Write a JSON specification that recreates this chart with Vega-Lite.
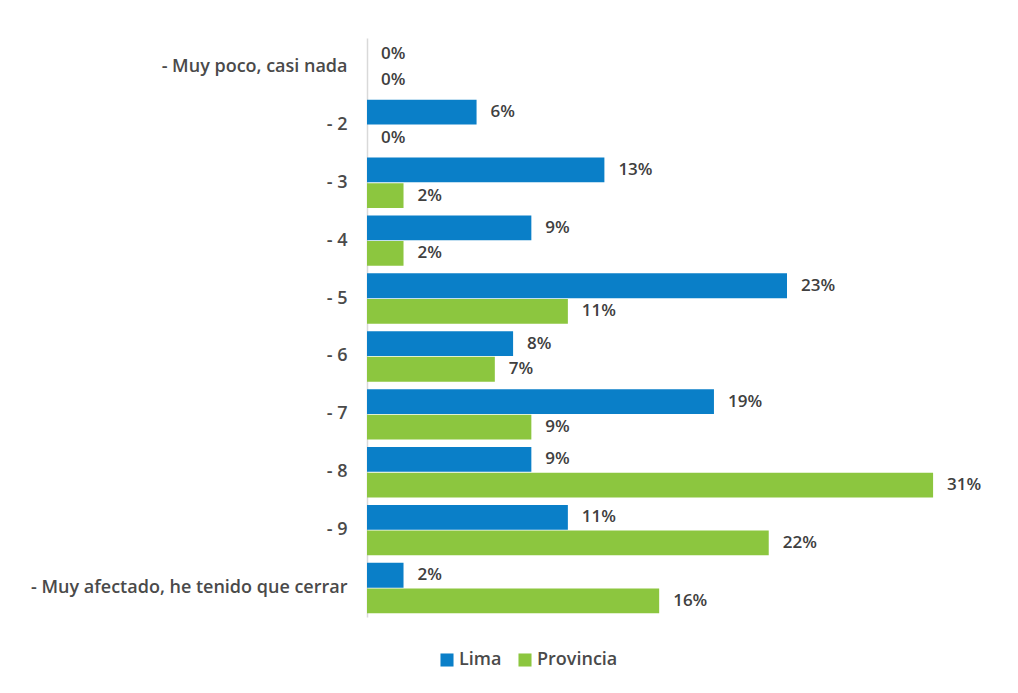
{
  "$schema": "https://vega.github.io/schema/vega-lite/v6.json",
  "autosize": {"type": "none"},
  "padding": {"left": 367, "top": 38, "right": 21, "bottom": 76},
  "width": 630,
  "height": 579,
  "background": "white",
  "config": {
    "font": "Open Sans",
    "view": {"stroke": null}
  },
  "data": {
    "values": [
      {"cat": "- Muy poco, casi nada", "grupo": "Lima", "valor": 0},
      {"cat": "- Muy poco, casi nada", "grupo": "Provincia", "valor": 0},
      {"cat": "- 2", "grupo": "Lima", "valor": 0.06},
      {"cat": "- 2", "grupo": "Provincia", "valor": 0},
      {"cat": "- 3", "grupo": "Lima", "valor": 0.13},
      {"cat": "- 3", "grupo": "Provincia", "valor": 0.02},
      {"cat": "- 4", "grupo": "Lima", "valor": 0.09},
      {"cat": "- 4", "grupo": "Provincia", "valor": 0.02},
      {"cat": "- 5", "grupo": "Lima", "valor": 0.23},
      {"cat": "- 5", "grupo": "Provincia", "valor": 0.11},
      {"cat": "- 6", "grupo": "Lima", "valor": 0.08},
      {"cat": "- 6", "grupo": "Provincia", "valor": 0.07},
      {"cat": "- 7", "grupo": "Lima", "valor": 0.19},
      {"cat": "- 7", "grupo": "Provincia", "valor": 0.09},
      {"cat": "- 8", "grupo": "Lima", "valor": 0.09},
      {"cat": "- 8", "grupo": "Provincia", "valor": 0.31},
      {"cat": "- 9", "grupo": "Lima", "valor": 0.11},
      {"cat": "- 9", "grupo": "Provincia", "valor": 0.22},
      {"cat": "- Muy afectado, he tenido que cerrar", "grupo": "Lima", "valor": 0.02},
      {"cat": "- Muy afectado, he tenido que cerrar", "grupo": "Provincia", "valor": 0.16}
    ]
  },
  "encoding": {
    "y": {
      "field": "cat",
      "type": "nominal",
      "sort": null,
      "title": null,
      "scale": {"paddingInner": 0.13, "paddingOuter": 0.065},
      "axis": {
        "ticks": false,
        "domainColor": "#D9D9D9",
        "domainWidth": 1.5,
        "labelFontSize": 18,
        "labelFontWeight": 600,
        "labelColor": "#4A4A4A",
        "labelPadding": 20,
        "labelLimit": 400
      }
    },
    "yOffset": {
      "field": "grupo",
      "type": "nominal",
      "scale": {"paddingInner": 0.03}
    },
    "x": {
      "field": "valor",
      "type": "quantitative",
      "scale": {"domain": [0, 0.345]},
      "axis": null
    }
  },
  "layer": [
    {
      "mark": {"type": "bar"},
      "encoding": {
        "color": {
          "field": "grupo",
          "type": "nominal",
          "scale": {"domain": ["Lima", "Provincia"], "range": ["#0A7FC8", "#8CC63F"]},
          "legend": {
            "title": null,
            "orient": "none",
            "direction": "horizontal",
            "legendX": 71,
            "legendY": 613,
            "symbolType": "square",
            "symbolSize": 170,
            "symbolOpacity": 1,
            "labelFontSize": 18,
            "labelFontWeight": 600,
            "labelColor": "#4A4A4A",
            "labelOffset": 3,
            "columnPadding": 14
          }
        }
      }
    },
    {
      "mark": {"type": "text", "align": "left", "baseline": "middle", "dx": 14, "fontSize": 17, "color": "#404040", "fontWeight": 600},
      "encoding": {
        "text": {"field": "valor", "type": "quantitative", "format": ".0%"},
        "detail": {"field": "grupo"}
      }
    }
  ]
}
